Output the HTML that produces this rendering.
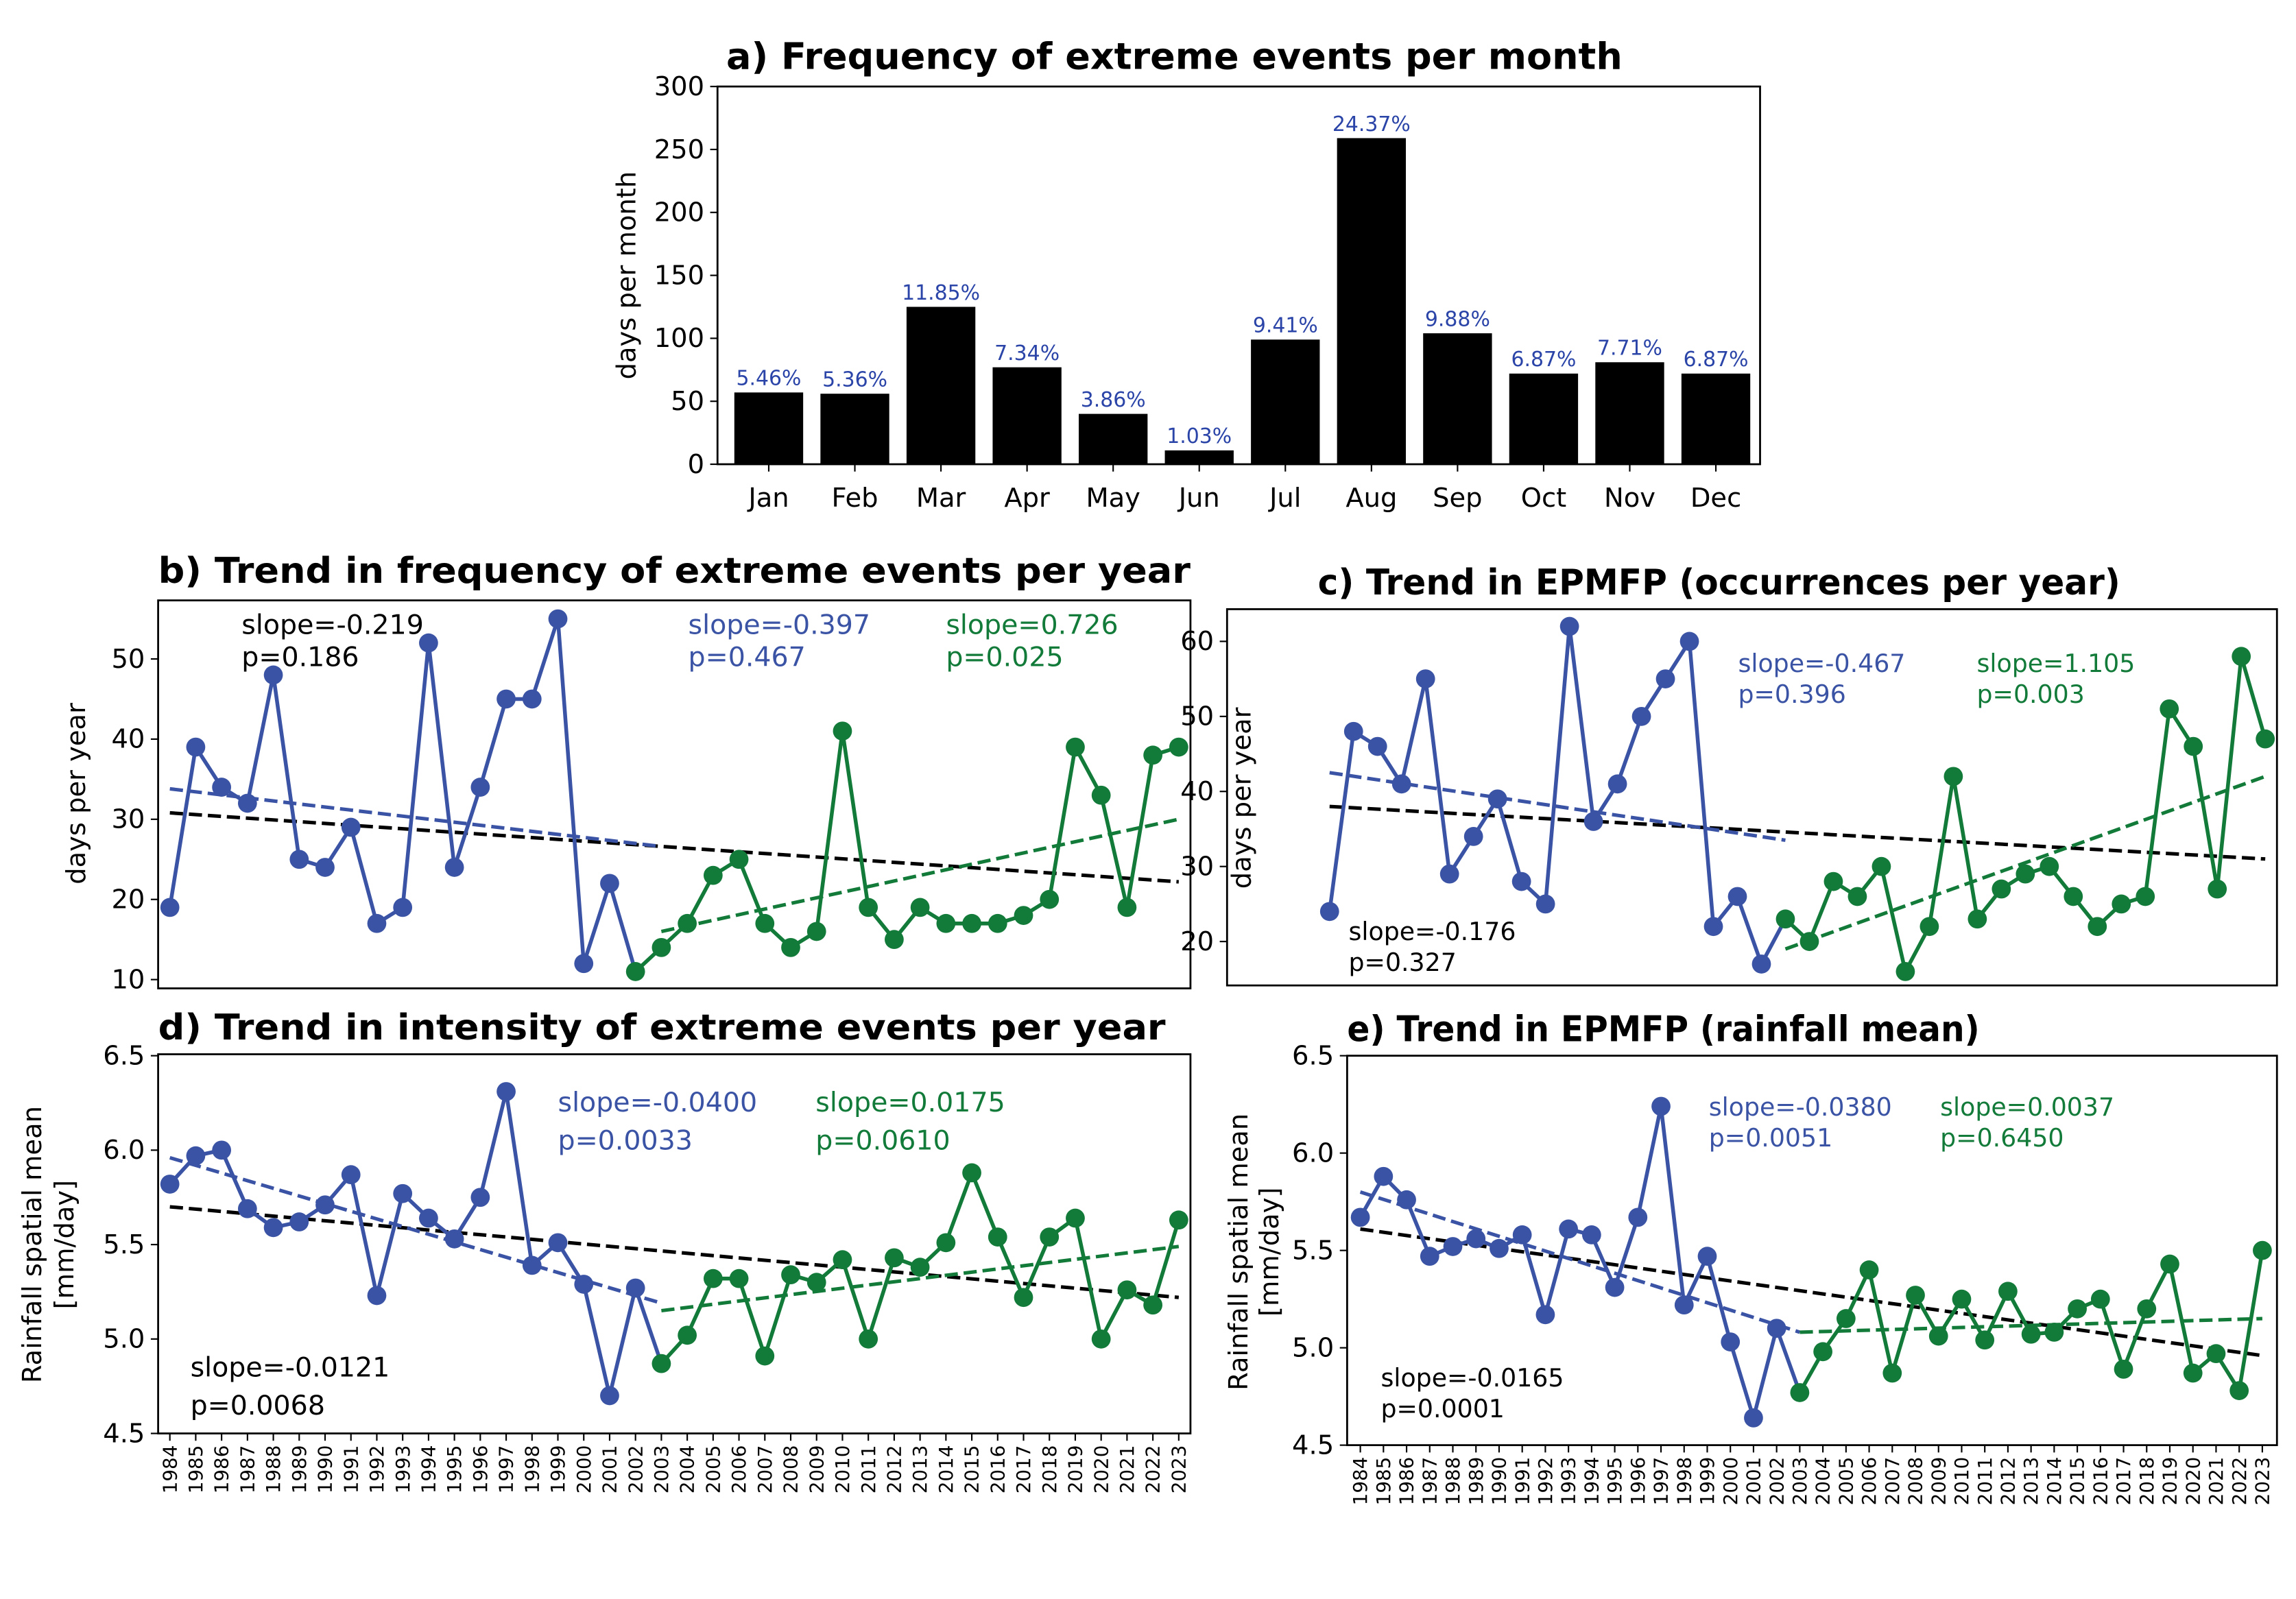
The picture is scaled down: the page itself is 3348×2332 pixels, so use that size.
<!DOCTYPE html>
<html><head><meta charset="utf-8"><style>
html,body{margin:0;padding:0;background:#fff}
svg{display:block}
text{font-family:"DejaVu Sans","Liberation Sans",sans-serif}
</style></head><body>
<svg id="fig" width="3348" height="2332" viewBox="0 0 1568 1092" xmlns="http://www.w3.org/2000/svg"></svg>
<script>
const years=[];for(let y=1984;y<=2023;y++)years.push(y);
const months=["Jan","Feb","Mar","Apr","May","Jun","Jul","Aug","Sep","Oct","Nov","Dec"];
const monthDays=[57,56,125,77,40,11,99,259,104,72,81,72];
const monthPct=["5.46%","5.36%","11.85%","7.34%","3.86%","1.03%","9.41%","24.37%","9.88%","6.87%","7.71%","6.87%"];
const freqYear=[19,39,34,32,48,25,24,29,17,19,52,24,34,45,45,55,12,22,11,14,17,23,25,17,14,16,41,19,15,19,17,17,17,18,20,39,33,19,38,39];
const epmfpYear=[24,48,46,41,55,29,34,39,28,25,62,36,41,50,55,60,22,26,17,23,20,28,26,30,16,22,42,23,27,29,30,26,22,25,26,51,46,27,58,47];
const intensity=[5.82,5.97,6.00,5.69,5.59,5.62,5.71,5.87,5.23,5.77,5.64,5.53,5.75,6.31,5.39,5.51,5.29,4.70,5.27,4.87,5.02,5.32,5.32,4.91,5.34,5.30,5.42,5.00,5.43,5.38,5.51,5.88,5.54,5.22,5.54,5.64,5.00,5.26,5.18,5.63];
const epmfpRain=[5.67,5.88,5.76,5.47,5.52,5.56,5.51,5.58,5.17,5.61,5.58,5.31,5.67,6.24,5.22,5.47,5.03,4.64,5.10,4.77,4.98,5.15,5.40,4.87,5.27,5.06,5.25,5.04,5.29,5.07,5.08,5.20,5.25,4.89,5.20,5.43,4.87,4.97,4.78,5.50];
const NS="http://www.w3.org/2000/svg";const svg=document.getElementById('fig');
const BLUE="#3a53a4",GREEN="#137b3a";
function mk(t,a,p){const e=document.createElementNS(NS,t);for(const k in a)e.setAttribute(k,a[k]);(p||svg).appendChild(e);return e;}
function txt(s,x,y,a,p){const e=mk('text',Object.assign({x:x,y:y},a),p);e.textContent=s;return e;}

/* panel a */
(function(){
const g=mk('g',{});
const L=490,R=1202,T=59,B=317;const ys=v=>B-(v/300)*(B-T);const xs=i=>525+i*58.8;
txt("a) Frequency of extreme events per month",496,47,{"font-size":25,"font-weight":"bold",textLength:612,lengthAdjust:"spacingAndGlyphs"},g);
monthDays.forEach((v,i)=>{const b=mk('rect',{x:xs(i)-23.5,y:ys(v),width:47,height:B-ys(v),fill:"#000"},g);

const t=txt(monthPct[i],xs(i),ys(v)-5,{"font-size":14,fill:"#2a44a8","text-anchor":"middle"},g);

mk('line',{x1:xs(i),x2:xs(i),y1:B,y2:B+5,stroke:"#000"},g);
txt(months[i],xs(i),B+29,{"font-size":18,"text-anchor":"middle"},g);});
[0,50,100,150,200,250,300].forEach(v=>{mk('line',{x1:L-5,x2:L,y1:ys(v),y2:ys(v),stroke:"#000"},g);
txt(v,L-9,ys(v)+6,{"font-size":18,"text-anchor":"end"},g);});
mk('rect',{x:L,y:T,width:R-L,height:B-T,fill:"none",stroke:"#000","stroke-width":1.3},g);
const yl=txt("days per month",0,0,{"font-size":18,"text-anchor":"middle",transform:"translate(434,188) rotate(-90)"},g);

})();

function panel(o){
const g=mk('g',{});
const xs=i=>o.x0+i*(o.x1-o.x0)/39;
const Y=v=>o.yb+(v-o.vb)*(o.yt-o.yb)/(o.vt-o.vb);
txt(o.title,o.tx,o.ty,{"font-size":24,"font-weight":"bold",textLength:o.tw,lengthAdjust:"spacingAndGlyphs"},g);
o.ticks.forEach(v=>{mk('line',{x1:o.L-5,x2:o.L,y1:Y(v),y2:Y(v),stroke:"#000"},g);
txt(o.fmt(v),o.L-9,Y(v)+6,{"font-size":18,"text-anchor":"end"},g);});
if(o.xlabels){years.forEach((yr,i)=>{mk('line',{x1:xs(i),x2:xs(i),y1:o.B,y2:o.B+5,stroke:"#000"},g);
txt(yr,0,0,{"font-size":13,"text-anchor":"end",transform:`translate(${xs(i)+4.5},${o.B+8}) rotate(-90)`},g);});}
const tr=(a,b,v1,v2,c,n)=>{const l=mk('line',{x1:xs(a),x2:xs(b),y1:Y(v1),y2:Y(v2),stroke:c,"stroke-width":2.4,"stroke-dasharray":"9,4"},g);
};
tr(0,39,o.kt[0],o.kt[1],"#000","trend-all");
tr(0,19,o.bt[0],o.bt[1],BLUE,"trend-early");
tr(19,39,o.gt[0],o.gt[1],GREEN,"trend-late");
const d=o.data;
const line=(a,b,c,n)=>{let p="";for(let i=a;i<=b;i++)p+=(i==a?"M":"L")+xs(i)+","+Y(d[i]);
const l=mk('path',{d:p,fill:"none",stroke:c,"stroke-width":2.6},g);};
line(0,o.blueEnd,BLUE,"series-early");line(o.greenStart,39,GREEN,"series-late");
d.forEach((v,i)=>{const c=mk('circle',{cx:xs(i),cy:Y(v),r:6.5,fill:i>=o.greenStart?GREEN:BLUE},g);
});
mk('rect',{x:o.L,y:o.T,width:o.R-o.L,height:o.B-o.T,fill:"none",stroke:"#000","stroke-width":1.3},g);
o.ann.forEach(a=>{txt(a[0],a[2],a[3],{"font-size":o.af,fill:a[1]},g);txt(a[4],a[2],a[3]+o.ad,{"font-size":o.af,fill:a[1]},g);});
o.ylab.forEach(l=>{const t=txt(l[0],0,0,{"font-size":18,"text-anchor":"middle",transform:`translate(${l[1]},${o.ylc}) rotate(-90)`},g);
});
}
const f0=v=>String(v),f1=v=>v.toFixed(1);
panel({name:'panel-b',title:"b) Trend in frequency of extreme events per year",tx:108,ty:398,tw:705,L:108,R:813,T:410,B:675,
x0:116,x1:805,yb:669,vb:10,yt:450,vt:50,ticks:[10,20,30,40,50],fmt:f0,data:freqYear,blueEnd:18,greenStart:18,
kt:[30.8,22.2],bt:[33.8,26.6],gt:[16,30],af:18.5,ad:22,
ann:[["slope=-0.219","#000",165,433,"p=0.186"],["slope=-0.397",BLUE,470,433,"p=0.467"],["slope=0.726",GREEN,646,433,"p=0.025"]],
ylab:[["days per year",58]],ylc:542});
panel({name:'panel-c',title:"c) Trend in EPMFP (occurrences per year)",tx:900,ty:406,tw:548,L:838,R:1555,T:416,B:673,
x0:908,x1:1547,yb:643,vb:20,yt:438,vt:60,ticks:[20,30,40,50,60],fmt:f0,data:epmfpYear,blueEnd:19,greenStart:19,
kt:[38,31],bt:[42.5,33.5],gt:[19,42],af:17,ad:21,
ann:[["slope=-0.467",BLUE,1187,459,"p=0.396"],["slope=1.105",GREEN,1350,459,"p=0.003"],["slope=-0.176","#000",921,642,"p=0.327"]],
ylab:[["days per year",854]],ylc:545});
panel({name:'panel-d',title:"d) Trend in intensity of extreme events per year",tx:108,ty:710,tw:688,L:108,R:813,T:720,B:979,
x0:116,x1:805,yb:979,vb:4.5,yt:721,vt:6.5,ticks:[4.5,5,5.5,6,6.5],fmt:f1,data:intensity,blueEnd:19,greenStart:19,xlabels:true,
kt:[5.70,5.22],bt:[5.96,5.19],gt:[5.15,5.49],af:18.5,ad:26,
ann:[["slope=-0.0400",BLUE,381,759,"p=0.0033"],["slope=0.0175",GREEN,557,759,"p=0.0610"],["slope=-0.0121","#000",130,940,"p=0.0068"]],
ylab:[["Rainfall spatial mean",28],["[mm/day]",50]],ylc:850});
panel({name:'panel-e',title:"e) Trend in EPMFP (rainfall mean)",tx:920,ty:711,tw:432,L:920,R:1555,T:721,B:987,
x0:929,x1:1545,yb:987,vb:4.5,yt:721,vt:6.5,ticks:[4.5,5,5.5,6,6.5],fmt:f1,data:epmfpRain,blueEnd:19,greenStart:19,xlabels:true,
kt:[5.61,4.96],bt:[5.80,5.08],gt:[5.08,5.15],af:17,ad:21,
ann:[["slope=-0.0380",BLUE,1167,762,"p=0.0051"],["slope=0.0037",GREEN,1325,762,"p=0.6450"],["slope=-0.0165","#000",943,947,"p=0.0001"]],
ylab:[["Rainfall spatial mean",852],["[mm/day]",873]],ylc:855});
</script>
</body></html>
